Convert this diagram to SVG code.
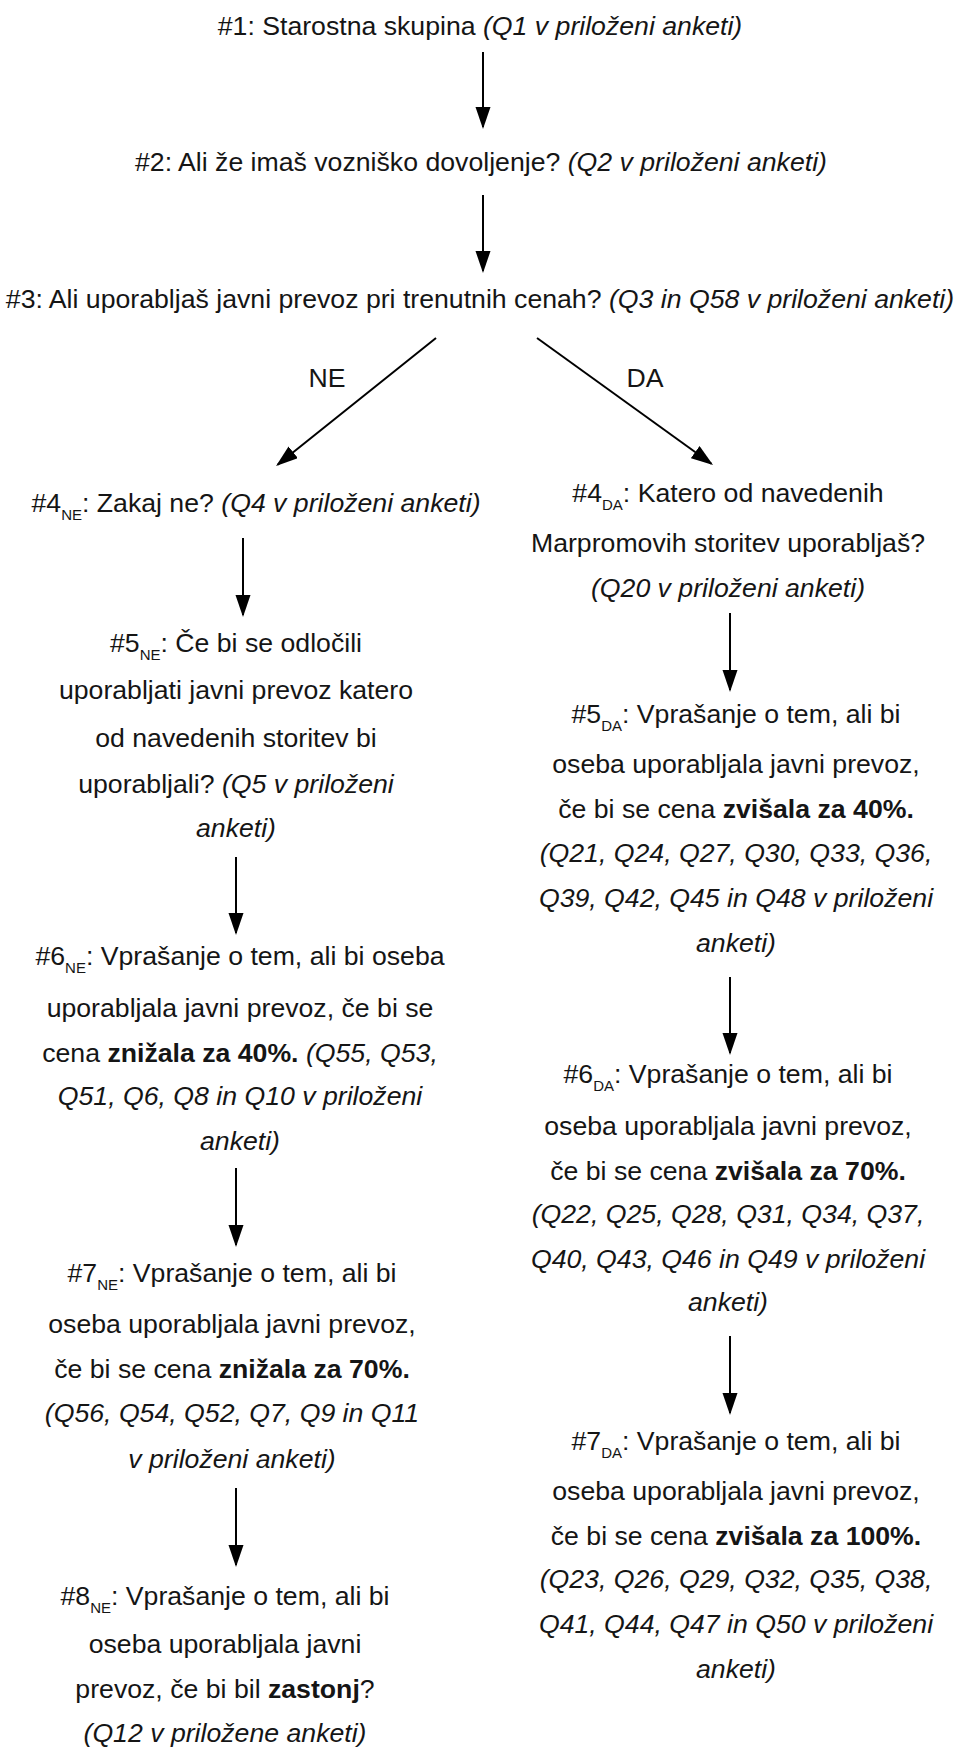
<svg xmlns="http://www.w3.org/2000/svg" width="961" height="1751" viewBox="0 0 961 1751">
<style>
text{font-family:"Liberation Sans",Arial,sans-serif;font-size:26.67px;fill:#151515;text-anchor:middle}
.i{font-style:italic}
.b{font-weight:bold}
.s{font-size:15px}
.c{stroke:#000;stroke-width:2;fill:none;marker-end:url(#ah)}
</style>
<defs>
<marker id="ah" markerUnits="userSpaceOnUse" markerWidth="24" markerHeight="16" refX="20" refY="7.5" orient="auto">
<path d="M0,0 L22,7.5 L0,15 z" fill="#000"/>
</marker>
</defs>
<rect width="961" height="1751" fill="#fff"/>
<g id="connectors">
<line class="c" x1="483" y1="52" x2="483" y2="127"/>
<line class="c" x1="483" y1="195" x2="483" y2="271"/>
<line class="c" x1="436" y1="338" x2="277.6" y2="464.8"/>
<line class="c" x1="537" y1="338" x2="711.4" y2="463.8"/>
<line class="c" x1="243" y1="538" x2="243" y2="615"/>
<line class="c" x1="236" y1="857" x2="236" y2="933"/>
<line class="c" x1="236" y1="1168" x2="236" y2="1245"/>
<line class="c" x1="236" y1="1488" x2="236" y2="1565"/>
<line class="c" x1="730" y1="613" x2="730" y2="690"/>
<line class="c" x1="730" y1="977" x2="730" y2="1053"/>
<line class="c" x1="730" y1="1336" x2="730" y2="1413"/>
<text x="327" y="387">NE</text>
<text x="645" y="387">DA</text>
</g>
<g id="n1"><text x="480" y="35">#1: Starostna skupina <tspan class="i">(Q1 v priloženi anketi)</tspan></text></g>
<g id="n2"><text x="481" y="171">#2: Ali že imaš vozniško dovoljenje? <tspan class="i">(Q2 v priloženi anketi)</tspan></text></g>
<g id="n3"><text x="480" y="308">#3: Ali uporabljaš javni prevoz pri trenutnih cenah? <tspan class="i">(Q3 in Q58 v priloženi anketi)</tspan></text></g>
<g id="n4ne"><text x="256" y="512">#4<tspan class="s" dy="8">NE</tspan><tspan dy="-8">: Zakaj ne? </tspan><tspan class="i">(Q4 v priloženi anketi)</tspan></text></g>
<g id="n5ne">
<text x="236" y="652">#5<tspan class="s" dy="8">NE</tspan><tspan dy="-8">: Če bi se odločili</tspan></text>
<text x="236" y="699">uporabljati javni prevoz katero</text>
<text x="236" y="747">od navedenih storitev bi</text>
<text x="236" y="793">uporabljali? <tspan class="i">(Q5 v priloženi</tspan></text>
<text x="236" y="837" class="i">anketi)</text>
</g>
<g id="n6ne">
<text x="240" y="965">#6<tspan class="s" dy="8">NE</tspan><tspan dy="-8">: Vprašanje o tem, ali bi oseba</tspan></text>
<text x="240" y="1017">uporabljala javni prevoz, če bi se</text>
<text x="240" y="1062">cena <tspan class="b">znižala za 40%.</tspan> <tspan class="i">(Q55, Q53,</tspan></text>
<text x="240" y="1105" class="i">Q51, Q6, Q8 in Q10 v priloženi</text>
<text x="240" y="1150" class="i">anketi)</text>
</g>
<g id="n7ne">
<text x="232" y="1282">#7<tspan class="s" dy="8">NE</tspan><tspan dy="-8">: Vprašanje o tem, ali bi</tspan></text>
<text x="232" y="1333">oseba uporabljala javni prevoz,</text>
<text x="232" y="1378">če bi se cena <tspan class="b">znižala za 70%.</tspan></text>
<text x="232" y="1422" class="i">(Q56, Q54, Q52, Q7, Q9 in Q11</text>
<text x="232" y="1468" class="i">v priloženi anketi)</text>
</g>
<g id="n8ne">
<text x="225" y="1605">#8<tspan class="s" dy="8">NE</tspan><tspan dy="-8">: Vprašanje o tem, ali bi</tspan></text>
<text x="225" y="1653">oseba uporabljala javni</text>
<text x="225" y="1698">prevoz, če bi bil <tspan class="b">zastonj</tspan>?</text>
<text x="225" y="1742" class="i">(Q12 v priložene anketi)</text>
</g>
<g id="n4da">
<text x="728" y="502">#4<tspan class="s" dy="8">DA</tspan><tspan dy="-8">: Katero od navedenih</tspan></text>
<text x="728" y="552">Marpromovih storitev uporabljaš?</text>
<text x="728" y="597" class="i">(Q20 v priloženi anketi)</text>
</g>
<g id="n5da">
<text x="736" y="723">#5<tspan class="s" dy="8">DA</tspan><tspan dy="-8">: Vprašanje o tem, ali bi</tspan></text>
<text x="736" y="773">oseba uporabljala javni prevoz,</text>
<text x="736" y="818">če bi se cena <tspan class="b">zvišala za 40%.</tspan></text>
<text x="736" y="862" class="i">(Q21, Q24, Q27, Q30, Q33, Q36,</text>
<text x="736" y="907" class="i">Q39, Q42, Q45 in Q48 v priloženi</text>
<text x="736" y="952" class="i">anketi)</text>
</g>
<g id="n6da">
<text x="728" y="1083">#6<tspan class="s" dy="8">DA</tspan><tspan dy="-8">: Vprašanje o tem, ali bi</tspan></text>
<text x="728" y="1135">oseba uporabljala javni prevoz,</text>
<text x="728" y="1180">če bi se cena <tspan class="b">zvišala za 70%.</tspan></text>
<text x="728" y="1223" class="i">(Q22, Q25, Q28, Q31, Q34, Q37,</text>
<text x="728" y="1268" class="i">Q40, Q43, Q46 in Q49 v priloženi</text>
<text x="728" y="1311" class="i">anketi)</text>
</g>
<g id="n7da">
<text x="736" y="1450">#7<tspan class="s" dy="8">DA</tspan><tspan dy="-8">: Vprašanje o tem, ali bi</tspan></text>
<text x="736" y="1500">oseba uporabljala javni prevoz,</text>
<text x="736" y="1545">če bi se cena <tspan class="b">zvišala za 100%.</tspan></text>
<text x="736" y="1588" class="i">(Q23, Q26, Q29, Q32, Q35, Q38,</text>
<text x="736" y="1633" class="i">Q41, Q44, Q47 in Q50 v priloženi</text>
<text x="736" y="1678" class="i">anketi)</text>
</g>
</svg>
